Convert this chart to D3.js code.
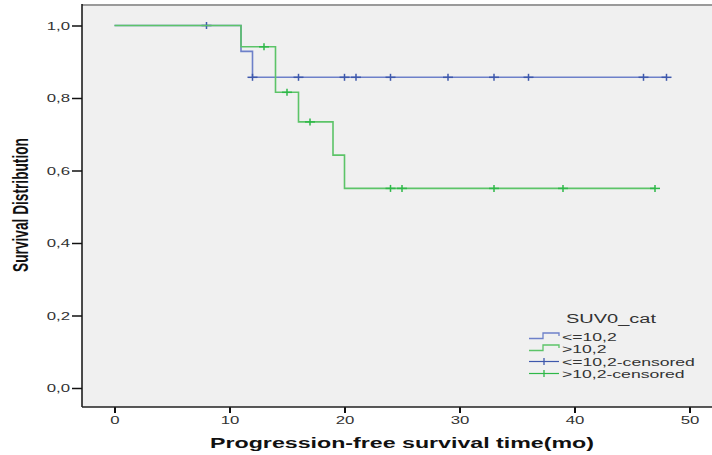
<!DOCTYPE html>
<html>
<head>
<meta charset="utf-8">
<script src="https://cdn.jsdelivr.net/npm/d3@7"></script>
<style>
  html, body { margin: 0; padding: 0; background: #fff; }
  svg { display: block; font-family: "Liberation Sans", Arial, sans-serif; }
</style>
</head>
<body>
<svg id="chart"></svg>
<script>
// survival steps: [time, survival]
const lowSteps = [[0, 1.0], [11, 0.9286], [12, 0.8571], [48, 0.8571]];
const highSteps = [[0, 1.0], [11, 0.9412], [14, 0.8157], [16, 0.7341], [19, 0.6424], [20, 0.5506], [47, 0.5506]];
const lowCensored = [8, 12, 16, 20, 21, 24, 29, 33, 36, 46, 48];
const highCensored = [13, 15, 17, 24, 25, 33, 39, 47];
const xTicks = [0, 10, 20, 30, 40, 50];
const yTicks = [0, 0.2, 0.4, 0.6, 0.8, 1.0];
const legendLabels = ['<=10,2', '>10,2', '<=10,2-censored', '>10,2-censored'];

const W = 712, H = 455;
const sx = 1.6; // picture is stretched sideways

const colorMap = {
  lowLine: '#6d80c9',
  lowMark: '#3e58ac',
  highLine: '#5cc468',
  highMark: '#2eb848'
};

const svg = d3.select('#chart').attr('width', W).attr('height', H);

let x = d3.scaleLinear().domain([0, 50]).range([114.5, 689.5]);
let y = d3.scaleLinear().domain([0, 1]).range([388, 25.5]);

let frame = { left: 82, top: 5, right: 712, bottom: 407 };

// plot background
svg.append('rect')
  .attr('x', frame.left)
  .attr('y', frame.top)
  .attr('width', frame.right - frame.left)
  .attr('height', frame.bottom - frame.top)
  .attr('fill', '#f0f0f0');

svg.append('line')
  .attr('x1', frame.left).attr('x2', frame.right)
  .attr('y1', frame.top).attr('y2', frame.top)
  .attr('stroke', '#9a9a9a').attr('stroke-width', 2);

// X Axis
let xAxisGroup = svg.append('g')
  .attr('transform', `translate(0, ${frame.bottom})`)
  .call(d3.axisBottom(x).tickValues(xTicks).tickSizeOuter(0).tickSize(6));
xAxisGroup.select('.domain').remove();
xAxisGroup.selectAll('line').attr('stroke', '#111').attr('stroke-width', 2);
xAxisGroup.selectAll('text')
  .attr('y', 0).attr('dy', 0)
  .attr('transform', `translate(0, 17) scale(${sx}, 1)`)
  .attr('fill', '#333')
  .style('font-size', '10.5px');

// Y Axis
let yAxisGroup = svg.append('g')
  .attr('transform', `translate(${frame.left}, 0)`)
  .call(d3.axisLeft(y).tickValues(yTicks).tickSize(10)
    .tickFormat((d) => d3.format('.1f')(d).replace('.', ',')));
yAxisGroup.select('.domain').remove();
yAxisGroup.selectAll('line').attr('stroke', '#111').attr('stroke-width', 1.5);
yAxisGroup.selectAll('text')
  .attr('x', 0).attr('dy', '0.36em')
  .attr('transform', `translate(-12, 0) scale(${sx}, 1)`)
  .attr('fill', '#333')
  .style('font-size', '10.5px');

// frame left / bottom
svg.append('line')
  .attr('x1', frame.left).attr('x2', frame.left)
  .attr('y1', frame.top - 1).attr('y2', frame.bottom)
  .attr('stroke', '#111').attr('stroke-width', 1.5);
svg.append('line')
  .attr('x1', frame.left).attr('x2', frame.right)
  .attr('y1', frame.bottom).attr('y2', frame.bottom)
  .attr('stroke', '#222').attr('stroke-width', 1.5);

// axis titles
svg.append('text')
  .attr('transform', `translate(402, 448) scale(${sx}, 1)`)
  .attr('text-anchor', 'middle')
  .attr('font-weight', 'bold')
  .attr('fill', '#111')
  .style('font-size', '14.5px')
  .text('Progression-free survival time(mo)');

svg.append('text')
  .attr('transform', `translate(28, 205) scale(${sx}, 1) rotate(-90)`)
  .attr('text-anchor', 'middle')
  .attr('font-weight', 'bold')
  .attr('fill', '#111')
  .style('font-size', '13.7px')
  .text('Survival Distribution');

// curves
let line = d3.line()
  .x((d) => x(d[0]))
  .y((d) => y(d[1]))
  .curve(d3.curveStepAfter);

function survivalAt(steps, t) {
  let v = steps[0][1];
  steps.forEach((s) => { if (s[0] <= t) v = s[1]; });
  return v;
}

function drawGroup(steps, censored, lineColor, markColor) {
  let g = svg.append('g');
  g.append('path')
    .datum(steps)
    .attr('fill', 'none')
    .attr('stroke', lineColor)
    .attr('stroke-width', 1.6)
    .attr('d', line);

  let marks = g.selectAll('g.mark')
    .data(censored)
    .enter().append('g')
    .attr('class', 'mark')
    .attr('transform', (d) => `translate(${x(d)}, ${y(survivalAt(steps, d))})`);
  marks.append('line')
    .attr('x1', -5).attr('x2', 5)
    .attr('stroke', markColor).attr('stroke-width', 1.5);
  marks.append('line')
    .attr('y1', -3.5).attr('y2', 3.5)
    .attr('stroke', markColor).attr('stroke-width', 1.5);
}

drawGroup(lowSteps, lowCensored, colorMap.lowLine, colorMap.lowMark);
drawGroup(highSteps, highCensored, colorMap.highLine, colorMap.highMark);

// legend
let legend = svg.append('g');
legend.append('text')
  .attr('transform', `translate(611, 322.5) scale(${sx}, 1)`)
  .attr('text-anchor', 'middle')
  .attr('fill', '#333')
  .style('font-size', '12.5px')
  .text('SUV0_cat');

let rowY = [337, 349, 361.5, 373.5];
let rowColors = [colorMap.lowLine, colorMap.highLine, colorMap.lowMark, colorMap.highMark];

legendLabels.forEach((label, i) => {
  let cy = rowY[i];
  if (i < 2) {
    legend.append('path')
      .attr('d', `M529,${cy + 1.5} H543 V${cy - 4} H559 V${cy - 1}`)
      .attr('fill', 'none')
      .attr('stroke', rowColors[i])
      .attr('stroke-width', 1.3);
  } else {
    legend.append('line')
      .attr('x1', 529).attr('x2', 559)
      .attr('y1', cy).attr('y2', cy)
      .attr('stroke', rowColors[i]).attr('stroke-width', 1.2);
    legend.append('line')
      .attr('x1', 544).attr('x2', 544)
      .attr('y1', cy - 3.5).attr('y2', cy + 3.5)
      .attr('stroke', rowColors[i]).attr('stroke-width', 1.3);
  }
  legend.append('text')
    .attr('transform', `translate(562, ${cy + 4}) scale(${sx}, 1)`)
    .attr('fill', '#333')
    .style('font-size', '11px')
    .text(label);
});
</script>
</body>
</html>
